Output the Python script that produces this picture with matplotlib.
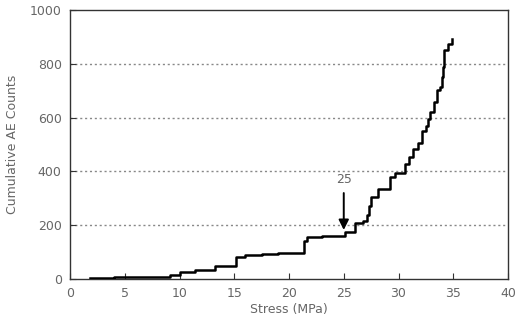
import matplotlib.pyplot as plt

# stress (MPa) and cumulative AE counts
stress = [1.8, 4.0, 9.1, 10.0, 11.4, 13.2, 15.2, 16.0, 17.5, 19.0, 21.4, 21.6,
          23.0, 25.1, 26.0, 26.8, 27.1, 27.3, 27.5, 28.1, 29.2, 29.7, 30.6, 31.0,
          31.3, 31.8, 32.1, 32.5, 32.7, 32.9, 33.2, 33.5, 33.8, 34.0, 34.1, 34.2,
          34.5, 34.9]
counts = [3, 8, 15, 25, 35, 47, 80, 89, 92, 96, 140, 155,
          160, 176, 207, 214, 238, 270, 306, 335, 380, 395, 427, 454,
          485, 506, 551, 568, 595, 621, 658, 701, 714, 750, 788, 852,
          874, 893]

x_ticks = [0, 5, 10, 15, 20, 25, 30, 35, 40]
y_ticks = [0, 200, 400, 600, 800, 1000]
grid_levels = [200, 400, 600, 800]

text_color = '#666666'

fig = plt.figure(figsize=(5.16, 3.36), dpi=100)
ax = fig.add_axes([0.1357, 0.1696, 0.8488, 0.8004])

for lvl in grid_levels:
    ax.axhline(lvl, color='#888888', linestyle=(0, (1.5, 2)), linewidth=1.0, zorder=1)

ax.plot(stress, counts, drawstyle='steps-post', color='black', linewidth=1.8, zorder=3)

# arrow marking the 25 MPa point
ax.annotate('', xy=(25, 172), xytext=(25, 330),
            arrowprops=dict(arrowstyle='-|>', color='black', lw=1.4, mutation_scale=15))
ax.text(25, 345, '25', color=text_color, ha='center', va='bottom', fontsize=9)

ax.set_xlim(0, 40)
ax.set_ylim(0, 1000)
ax.set_xticks(x_ticks)
ax.set_yticks(y_ticks)
ax.tick_params(direction='in', length=4, colors='#333333', labelcolor=text_color,
               labelsize=9, pad=6)
for side in ax.spines.values():
    side.set_color('#333333')
    side.set_linewidth(1.0)

ax.set_xlabel('Stress (MPa)', color=text_color, fontsize=9, labelpad=2)
ax.set_ylabel('Cumulative AE Counts', color=text_color, fontsize=9, labelpad=8)

plt.savefig('out.png', dpi=100)
